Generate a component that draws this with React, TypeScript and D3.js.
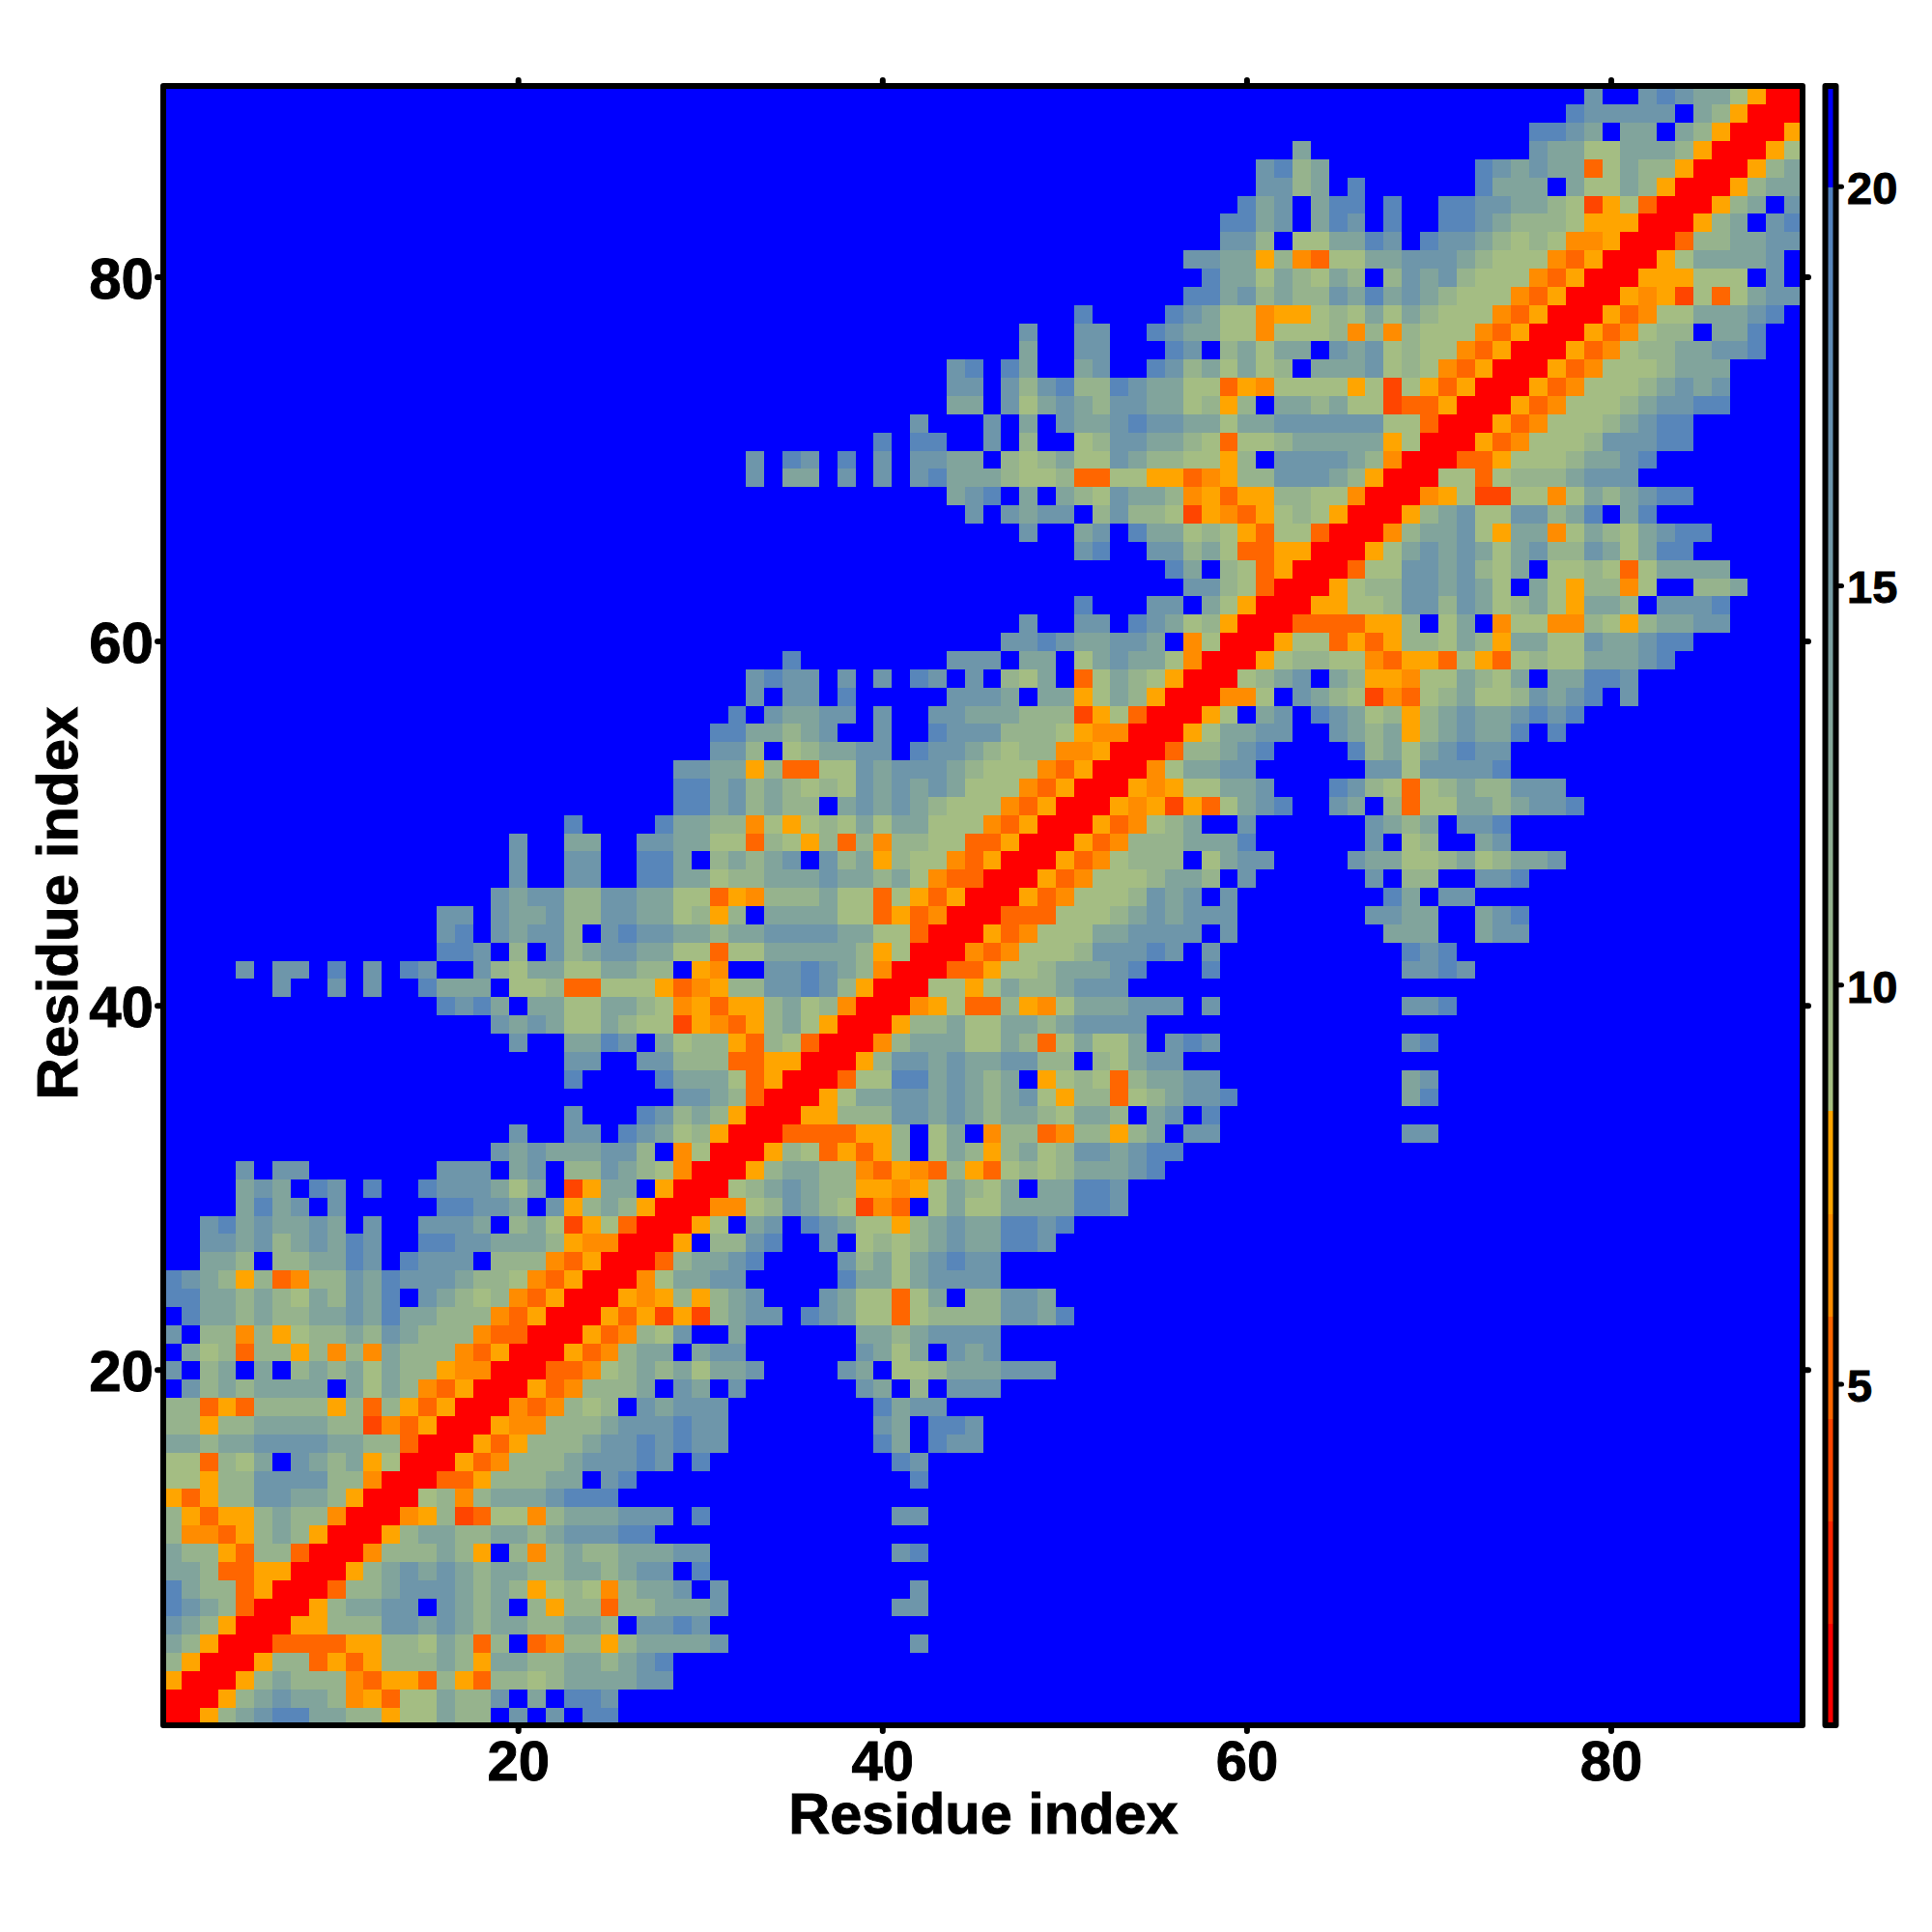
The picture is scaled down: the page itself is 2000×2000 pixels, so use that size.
import React from "react";
import * as d3 from "d3";

// Upper-triangle rows of the distance map: rows[y-1] starts at x = y. The map is symmetric.
// Letters are distance levels, see LEVEL_VALUES. "." = beyond the cutoff.
const rows: string[] = [
  "RRYbcdeeccbbYaacbb.d.d.ee",
  "RRYbcdccbMYOaacbbd.c.eed",
  "RRYbcbbbMOYYObYObbabccccdd",
  "RRYbbOYOYbbbcbYccbbccbcde",
  "RROOOOYYbbacbOb.OMbbYbcccc" + "d" + ".........." + "d",
  "RRYYbbbddcdcbccbbccb.dded",
  "RRYbccdd.dcbc.bYbbObbccc" + "d" + "........." + "dd",
  "RRObbcdddcbcbYabaMbccd." + "d" + ".........." + "d",
  "RRYbcdcdcbccbbccbcdd.e",
  "RRMbbbcbY.bMbcbbcccdd" + ".........." + "de",
  "RRYbccbbccbcdddee",
  "RRMYbVOaaMbcccddd.e" + ".........." + "dd",
  "RRabMbcccdeee",
  "RROOYbbbcc.de" + "..............." + "e",
  "RRYOMbbbcddded.e" + ".........." + "ed",
  "RRYOYbbbcddeded" + "d" + "........" + "ec.edd",
  "RRYMMbbbcdddedd" + "........" + "dc.eed",
  "RRMOMbab.dcdd" + "d" + "........" + "ecdd",
  "RRYOMbbbc.dc" + ".d" + "......" + "dc.b.ddd",
  "RROOMabcbca" + "ccd" + "...." + "dc.aabcccddd",
  "RRYOMbcc.c" + "dd" + "......" + "dcac.dcd",
  "RRYOMbad." + ".c" + "......" + "ccbcdddd",
  "RRYOYVYV" + "bcdd.edcaaOabbbbddce",
  "RRYMYbY" + "bcd...dcaaOac.bbddc",
  "RRMacc" + "dd.....eccacdddd",
  "RRObc" + "cde....dbcacdedd",
  "RRY." + "bbde..d.ababcdcceed",
  "RRY" + "a.cd.edcaaYbcdcceede",
  "RR" + "MMabdcbaVMO.acaacccceed",
  "RRabcdcbbYYMYacbac.cceed",
  "RRYbccbbMOYMObYOababcccde",
  "RRYbaOYOYb.acbYbcabddcdee",
  "RROOOOYYb.ac.MbbOMbbYbc.dd" + ".........." + "dd",
  "RRYYbbbddcdcbccbaccb.cd.e",
  "RRYaccddcdcbcdaYbbOabcdde" + "........." + "ce",
  "RROaaeecdcbc.YabaObccdd" + ".........." + "cd",
  "RRYbddcdccddbb.bacdd",
  "RRMbcccaacbOacaac.ded" + ".........." + "de",
  "RRYbbcaaccbcdddd",
  "RRMYaOObYMacccddd.d" + ".........." + "dde",
  "RRaaYacbbcddd",
  "RROOYaabcccde...e" + ".........." + "dded",
  "RRMOMaaabddded.d" + ".........." + "ede",
  "RRYOMaaaccdddd.d" + "........" + "ccc..cdd",
  "RROOOaaabcdcddd" + "......." + "ddcc..cde",
  "RRYOMaaabdcd.d" + "........" + "ec.dd",
  "RRYOMaaabccb.d" + "......" + "d.bb..dde",
  "RRYOMabbb.acd" + "d....dccaabcabccd",
  "RRYOMbbbccce" + "......" + "d.ab..cd",
  "RRYOMabc..d" + "......" + "dcbc.dde",
  "RRYMYVYOac" + "de..dc.bOaaccbcdde",
  "RRYMYaacc" + "d...edbaOabcbbddd",
  "RRMaccdd" + "......" + "ddadddde",
  "RRObbcd" + "e....ebcacdedd",
  "RRYacc" + "dd..dcbcYbcdcce.e",
  "RRYa." + "cd.edcabYbcdccdede",
  "RRMM" + "a.dcbaVMOabcaabdcde.d",
  "RRa" + "bcd.cbYYMaacbac.cceed",
  "RR" + "YabbaaMOYYOaYOabaacccde",
  "RRYaaOYOYbbacbYccaadccdee",
  "RROOOOYYb.ac.MaaMMbaYbccdd",
  "RRYYaabddbdcabcaYccb.ddde",
  "RRYabbddcdca.caYbbMa..bbc",
  "RROaaddcdbac.aabaOacccc",
  "RRYacdcdcacdbbdcacee",
  "RRMbccdaYccMacbacdee",
  "RRYbcdaaddbce.ce",
  "RRMYaVVaaMacbcdee",
  "RRaaOabbbcddd",
  "RROOYaaabccde",
  "RRYOMaaabdddee",
  "RRYOMaaabcdee",
  "RRYOMaaabcddee",
  "RRYOMaaabcdcd",
  "RRYOMaaabccc",
  "RRYOMabbccdde",
  "RRYOMabb.cce",
  "RRYOMaacccde",
  "RRYMYVaOacdd",
  "RRYYYaaa.d.",
  "RRYaccccd.",
  "RRObbccdd",
  "RRYbc.de",
  "RRYbc.d",
  "RRYbcc",
  "RRYbc",
  "RRYa",
  "RRY",
  "RR",
  "R",
];

const LEVEL_VALUES: Record<string, number> = {
  R: 1.4, V: 4, O: 5.2, M: 6.5, Y: 7.8,
  a: 9, b: 10.8, c: 13.5, d: 16, e: 19,
  ".": 21,
};

const axisTicks = [20, 40, 60, 80];
const barTicks = [5, 10, 15, 20];
const stepColors = ["#FF0000", "#FF2400", "#FF4500", "#FF6600", "#FF8C00", "#FFA500"];
const stepEdges = [2.01, 3.29, 4.57, 5.85, 7.14];
const AXIS_TITLE = "Residue index";
const FONT = "'Liberation Sans', Arial, sans-serif";

const size = 90;
const lo = 8.43, hi = 20, barMin = 0.73, barMax = 21.26;
const stepScale = d3.scaleThreshold<number, string>().domain(stepEdges).range(stepColors);
const gradScale = d3.scaleLinear<string>().domain([lo, hi]).range(["#A8C080", "#5080C0"]);
const colour = (v: number) => (v < lo ? stepScale(v) : v <= hi ? gradScale(v) : "#0000FF");

const L = 169, R = 1866, T = 89, B = 1786;
const x = d3.scaleLinear().domain([0.5, size + 0.5]).range([L, R]);
const y = d3.scaleLinear().domain([0.5, size + 0.5]).range([B, T]);
const barY = d3.scaleLinear().domain([barMin, barMax]).range([B, T]);

const matrix: number[][] = d3.range(size).map(() => d3.range(size).map(() => 21));
rows.forEach((s, j) => {
  Array.from(s).forEach((ch, k) => {
    const i = j + k;
    if (i < size) {
      matrix[j][i] = LEVEL_VALUES[ch] ?? 21;
      matrix[i][j] = matrix[j][i];
    }
  });
});

const barEdges = [
  ...[barMin, ...stepEdges, lo],
  ...d3.range(lo + 0.1, hi, 0.1),
  hi,
  barMax,
];

export default function App() {
  const textStyle = { fontFamily: FONT, fontWeight: 700, fill: "#000", stroke: "#000", strokeWidth: 0.9 } as const;
  return (
    <svg width={2000} height={2000} style={{ position: "absolute", left: 0, top: 0, background: "#fff" }}>
      <g shapeRendering="crispEdges">
        {matrix.map((row, j) =>
          row.map((v, i) => (
            <rect
              key={`${i}-${j}`}
              x={x(i + 0.5)}
              y={y(j + 1.5)}
              width={x(i + 1.5) - x(i + 0.5) + 0.5}
              height={y(j + 0.5) - y(j + 1.5) + 0.5}
              fill={colour(v)}
            />
          ))
        )}
      </g>
      <rect x={L} y={T} width={R - L} height={B - T} fill="none" stroke="#000" strokeWidth={6} strokeLinejoin="round" />
      {axisTicks.map((t) => (
        <g key={t} stroke="#000" strokeWidth={6} strokeLinecap="round">
          <line x1={x(t)} x2={x(t)} y1={B} y2={B + 6} />
          <line x1={x(t)} x2={x(t)} y1={T} y2={T - 6} />
          <line y1={y(t)} y2={y(t)} x1={L} x2={L - 6} />
          <line y1={y(t)} y2={y(t)} x1={R} x2={R + 6} />
        </g>
      ))}
      {axisTicks.map((t) => (
        <text key={`xl${t}`} x={x(t)} y={1843} textAnchor="middle" fontSize={58} style={textStyle}>{t}</text>
      ))}
      {axisTicks.map((t) => (
        <text key={`yl${t}`} x={159} y={y(t) + 22} textAnchor="end" fontSize={60} style={textStyle}>{t}</text>
      ))}
      <text x={1018} y={1898} textAnchor="middle" fontSize={59.5} style={textStyle}>{AXIS_TITLE}</text>
      <text transform="translate(80,935) rotate(-90)" textAnchor="middle" fontSize={60} style={textStyle}>{AXIS_TITLE}</text>

      <g shapeRendering="crispEdges">
        {barEdges.slice(0, -1).map((e, k) => {
          const next = barEdges[k + 1];
          const mid = (e + next) / 2;
          return (
            <rect key={k} x={1889} width={12} y={barY(next)} height={barY(e) - barY(next) + 0.6} fill={colour(mid)} />
          );
        })}
      </g>
      <rect x={1889.5} y={T} width={11} height={B - T} fill="none" stroke="#000" strokeWidth={6} strokeLinejoin="round" />
      {barTicks.map((t) => (
        <g key={`b${t}`}>
          <line x1={1903} x2={1906.5} y1={barY(t)} y2={barY(t)} stroke="#000" strokeWidth={5} strokeLinecap="round" />
          <text x={1912} y={barY(t) + 18} fontSize={47} style={textStyle}>{t}</text>
        </g>
      ))}
    </svg>
  );
}
